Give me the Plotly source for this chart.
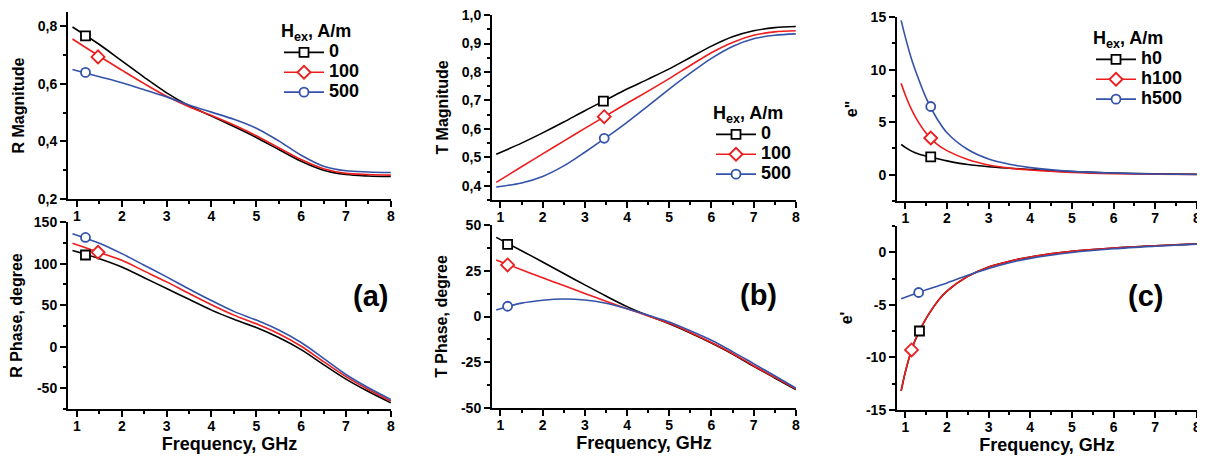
import plotly.graph_objects as go
from plotly.subplots import make_subplots

freq_ab = [0.9, 1.5, 2, 2.5, 3, 3.5, 4, 4.5, 5, 5.5, 6, 6.5, 7, 7.5, 8]
freq_c = [0.9, 1.0, 1.15, 1.3, 1.5, 1.75, 2, 2.5, 3, 3.5, 4, 5, 6, 7, 8]

# (a) R magnitude
r_mag_0 = [0.798, 0.737, 0.680, 0.623, 0.569, 0.524, 0.488, 0.452, 0.414, 0.372, 0.331, 0.300, 0.285, 0.280, 0.278]
r_mag_100 = [0.756, 0.696, 0.648, 0.601, 0.557, 0.521, 0.490, 0.457, 0.420, 0.378, 0.337, 0.305, 0.289, 0.285, 0.283]
r_mag_500 = [0.650, 0.625, 0.604, 0.580, 0.555, 0.527, 0.502, 0.477, 0.446, 0.402, 0.352, 0.314, 0.298, 0.294, 0.292]
# (a) R phase
r_ph_0 = [115.7, 106, 96, 83, 70, 57, 44, 33, 23, 11, -3.5, -21.5, -39, -54, -67.5]
r_ph_100 = [124.6, 113.5, 104, 91, 78, 64, 50.5, 38, 27.5, 15.5, 0.5, -18, -36, -51.5, -65.5]
r_ph_500 = [136, 124.5, 112, 98, 84, 69.5, 55.5, 42.5, 32, 20, 5, -14, -33.5, -49.5, -63.5]
# (b) T magnitude
t_mag_0 = [0.511, 0.550, 0.586, 0.624, 0.664, 0.702, 0.740, 0.775, 0.811, 0.851, 0.891, 0.924, 0.945, 0.956, 0.960]
t_mag_100 = [0.412, 0.467, 0.512, 0.557, 0.602, 0.646, 0.690, 0.733, 0.777, 0.823, 0.868, 0.904, 0.929, 0.941, 0.945]
t_mag_500 = [0.396, 0.410, 0.433, 0.470, 0.518, 0.569, 0.623, 0.681, 0.740, 0.796, 0.848, 0.890, 0.917, 0.929, 0.934]
# (b) T phase
t_ph_0 = [43.3, 36, 29.8, 23.5, 17.3, 11.2, 5.4, 0.5, -4, -9, -14.5, -20.5, -27.2, -33.6, -40]
t_ph_100 = [30.9, 25.6, 21.2, 16.9, 12.6, 8.4, 4.3, 0.3, -3.7, -8.7, -14.2, -20.2, -26.9, -33.3, -39.6]
t_ph_500 = [3.6, 7.3, 8.9, 9.6, 9.0, 7.2, 4.2, 0.7, -3.0, -7.8, -13, -19.2, -25.8, -32.4, -39.1]
# (c) e''
e2_0 = [2.9, 2.6, 2.25, 2.0, 1.78, 1.55, 1.32, 0.97, 0.76, 0.62, 0.5, 0.3, 0.17, 0.08, 0.04]
e2_100 = [8.7, 7.6, 6.2, 5.1, 3.95, 2.95, 2.3, 1.45, 0.93, 0.63, 0.45, 0.22, 0.1, 0.05, 0.02]
e2_500 = [14.7, 13.1, 11.0, 9.3, 7.3, 5.4, 4.0, 2.4, 1.5, 1.0, 0.68, 0.32, 0.16, 0.07, 0.03]
# (c) e'
e1_0 = [-13.2, -11.4, -9.3, -7.8, -6.3, -4.8, -3.7, -2.3, -1.4, -0.85, -0.45, 0.08, 0.4, 0.62, 0.8]
e1_100 = [-13.2, -11.4, -9.3, -7.8, -6.3, -4.8, -3.7, -2.3, -1.4, -0.85, -0.45, 0.08, 0.4, 0.62, 0.8]
e1_500 = [-4.43, -4.29, -4.08, -3.86, -3.57, -3.25, -2.92, -2.2, -1.55, -1.0, -0.58, -0.02, 0.33, 0.57, 0.77]

# single marker positions (x, y) per series, per panel
mk_rmag = [(1.19, 0.767), (1.47, 0.694), (1.19, 0.640)]
mk_rph = [(1.19, 110.4), (1.47, 113.7), (1.19, 131.5)]
mk_tmag = [(3.44, 0.698), (3.46, 0.643), (3.46, 0.567)]
mk_tph = [(1.17, 39.5), (1.17, 28.2), (1.17, 5.6)]
mk_e2 = [(1.61, 1.7), (1.61, 3.5), (1.61, 6.5)]
mk_e1 = [(1.34, -7.5), (1.15, -9.3), (1.32, -3.83)]

names_ab = ["0", "100", "500"]
names_c = ["h0", "h100", "h500"]

x_ticks = [1, 2, 3, 4, 5, 6, 7, 8]
x_text = ["1", "2", "3", "4", "5", "6", "7", "8"]
rmag_ticks = [0.2, 0.4, 0.6, 0.8]
rmag_text = ["0,2", "0,4", "0,6", "0,8"]
rph_ticks = [-50, 0, 50, 100, 150]
rph_text = ["-50", "0", "50", "100", "150"]
tmag_ticks = [0.4, 0.5, 0.6, 0.7, 0.8, 0.9, 1.0]
tmag_text = ["0,4", "0,5", "0,6", "0,7", "0,8", "0,9", "1,0"]
tph_ticks = [-50, -25, 0, 25, 50]
tph_text = ["-50", "-25", "0", "25", "50"]
e2_ticks = [0, 5, 10, 15]
e2_text = ["0", "5", "10", "15"]
e1_ticks = [-15, -10, -5, 0]
e1_text = ["-15", "-10", "-5", "0"]

colors = ["#000000", "#EE1C1C", "#3452A8"]
symbols = ["square", "diamond", "circle"]
msizes = [9, 10, 9]

FONT = "Liberation Sans, Arial, sans-serif"

# page offset (browser body margin) and figure size
OX, OY = 8, 8
W, H = 1205 - OX, 456 - OY


def fx(px):
    return (px - OX) / W


def fy(py):
    return 1 - (py - OY) / H


fig = make_subplots(rows=2, cols=3)

panels = [
    (1, 1, freq_ab, [r_mag_0, r_mag_100, r_mag_500], mk_rmag, "legend", names_ab),
    (2, 1, freq_ab, [r_ph_0, r_ph_100, r_ph_500], mk_rph, None, names_ab),
    (1, 2, freq_ab, [t_mag_0, t_mag_100, t_mag_500], mk_tmag, "legend2", names_ab),
    (2, 2, freq_ab, [t_ph_0, t_ph_100, t_ph_500], mk_tph, None, names_ab),
    (1, 3, freq_c, [e2_0, e2_100, e2_500], mk_e2, "legend3", names_c),
    (2, 3, freq_c, [e1_0, e1_100, e1_500], mk_e1, None, names_c),
]

for row, col, fq, series, marks, leg, names in panels:
    for i in range(3):
        fig.add_trace(go.Scatter(x=fq, y=series[i], mode="lines",
                                 line=dict(color=colors[i], width=1.6, shape="spline", smoothing=0.9),
                                 showlegend=False, hoverinfo="skip"), row=row, col=col)
    for i in range(3):
        mx, my = marks[i]
        kw = dict(legend=leg, showlegend=True) if leg else dict(showlegend=False)
        fig.add_trace(go.Scatter(x=[mx], y=[my], mode="lines+markers",
                                 name="<span style='font-size:18px'>" + names[i] + "</span>",
                                 line=dict(color=colors[i], width=1.6),
                                 marker=dict(symbol=symbols[i], size=msizes[i], color="white",
                                             line=dict(color=colors[i], width=1.8)),
                                 **kw), row=row, col=col)

# plot boxes in window pixels (left, right, top, bottom)
boxes = {
    (1, 1): (68, 391, 12, 199),
    (2, 1): (68, 391, 222, 409),
    (1, 2): (492, 796, 15, 200),
    (2, 2): (492, 796, 225, 408),
    (1, 3): (897, 1197, 17, 201),
    (2, 3): (897, 1197, 226, 410),
}
yspecs = {
    (1, 1): ([0.2, 0.85], rmag_ticks, rmag_text, 0.1, 0.0, "R Magnitude"),
    (2, 1): ([-75, 150.1], rph_ticks, rph_text, 25, 0, "R Phase, degree"),
    (1, 2): ([0.35, 1.0005], tmag_ticks, tmag_text, 0.05, 0.0, "T Magnitude"),
    (2, 2): ([-50.05, 50.05], tph_ticks, tph_text, 12.5, 0, "T Phase, degree"),
    (1, 3): ([-2.5, 15.02], e2_ticks, e2_text, 2.5, 0, "e\""),
    (2, 3): ([-15.02, 2.5], e1_ticks, e1_text, 2.5, 0, "e'"),
}

axis_common = dict(showline=True, linewidth=2, linecolor="black", ticks="outside", ticklen=6, tickwidth=2,
                   tickcolor="black", showgrid=False, zeroline=False, mirror=False, automargin=False,
                   ticklabeloverflow="allow",
                   tickfont=dict(family=FONT, size=14, color="black", weight="bold"))

for (row, col), (l, r, t, b) in boxes.items():
    yr, yt, ytt, ymin, y0, ytitle = yspecs[(row, col)]
    fig.update_xaxes(domain=[fx(l), fx(r)], range=[0.8, 8.005], tickmode="array", tickvals=x_ticks, ticktext=x_text,
                     ticklabelstandoff=-3,
                     minor=dict(ticks="outside", ticklen=3, tickwidth=2, tickcolor="black", tickmode="linear", tick0=0, dtick=0.5),
                     title=dict(text="Frequency, GHz" if row == 2 else "",
                                font=dict(family=FONT, size=18, color="black", weight="bold"), standoff=5),
                     row=row, col=col, **axis_common)
    fig.update_yaxes(domain=[fy(b), fy(t)], range=yr, tickmode="array", tickvals=yt, ticktext=ytt,
                     minor=dict(ticks="outside", ticklen=3, tickwidth=2, tickcolor="black", tickmode="linear", tick0=y0, dtick=ymin),
                     title=dict(text=ytitle, font=dict(family=FONT, size=16, color="black", weight="bold"), standoff=9),
                     row=row, col=col, **axis_common)

leg_common = dict(bgcolor="rgba(0,0,0,0)", borderwidth=0, xanchor="left", yanchor="top",
                  font=dict(family=FONT, size=13, color="black", weight="bold"),
                  title=dict(text="H<sub>ex</sub>, A/m", font=dict(family=FONT, size=18, color="black", weight="bold")),
                  tracegroupgap=0, itemwidth=40)

ann_font = dict(family=FONT, size=29, color="black", weight="bold")

fig.update_layout(
    width=W, height=H, autosize=False,
    margin=dict(l=0, r=0, t=0, b=0),
    paper_bgcolor="white", plot_bgcolor="white",
    font=dict(family=FONT, size=14, color="black", weight="bold"),
    legend=dict(x=fx(279), y=fy(14), **leg_common),
    legend2=dict(x=fx(711), y=fy(96), **leg_common),
    legend3=dict(x=fx(1091), y=fy(21), **leg_common),
    annotations=[
        dict(text="(a)", x=fx(351), y=fy(314), xref="paper", yref="paper", showarrow=False, font=ann_font),
        dict(text="(b)", x=fx(758), y=fy(313), xref="paper", yref="paper", showarrow=False, font=ann_font),
        dict(text="(c)", x=fx(1165), y=fy(314), xref="paper", yref="paper", showarrow=False, font=ann_font),
    ],
)

fig.write_html("out.html")
